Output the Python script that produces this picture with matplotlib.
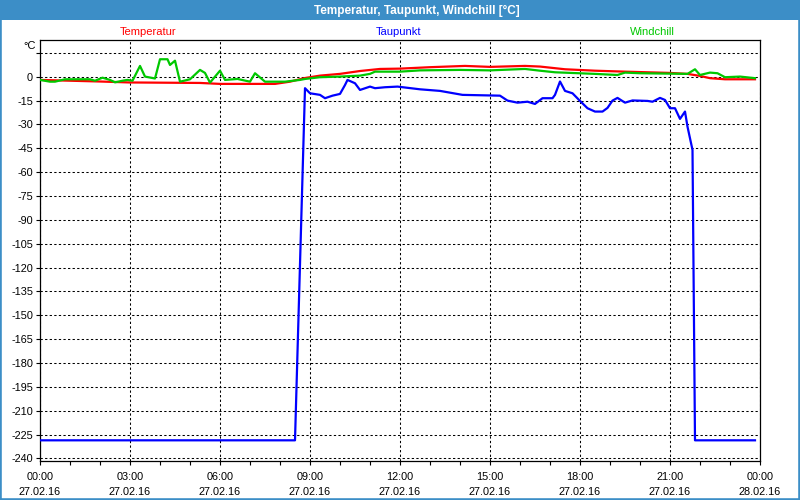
import matplotlib
matplotlib.use("Agg")
import matplotlib.pyplot as plt
import matplotlib.dates as mdates
from matplotlib.patches import Rectangle
import pandas as pd

# ---------------- data ----------------
day = "2016-02-27 "

temp_times = ["00:00", "02:00", "03:00", "05:20", "06:00", "07:50", "08:20", "08:50",
              "09:20", "10:00", "10:40", "11:20", "12:00", "13:00", "14:10", "15:00",
              "16:10", "16:40", "17:30", "18:30", "19:30", "21:00", "21:35", "22:00",
              "22:20", "22:50", "23:50"]
temp_values = [-2.0, -3.0, -3.6, -3.9, -4.5, -4.5, -3.1, -0.8,
               0.7, 1.8, 3.6, 4.9, 5.1, 6.0, 6.8, 6.2,
               6.8, 6.4, 4.7, 3.8, 3.2, 2.4, 1.8, 0.5,
               -0.9, -1.6, -1.6]

wind_times = ["00:00", "00:20", "00:30", "00:50", "01:40", "01:50", "02:05", "02:20",
              "02:30", "02:45", "02:55", "03:05", "03:20", "03:30", "03:50", "04:00",
              "04:15", "04:20", "04:30", "04:40", "05:00", "05:20", "05:30", "05:40",
              "06:00", "06:10", "06:35", "07:00", "07:10", "07:30", "08:10", "08:40",
              "08:50", "09:20", "10:00", "10:40", "11:00", "11:10", "12:00", "12:40",
              "14:00", "15:00", "16:10", "16:40", "17:10", "18:30", "19:15", "19:30",
              "20:00", "21:35", "21:50", "22:00", "22:20", "22:35", "22:50", "23:20",
              "23:50"]
wind_values = [-2.0, -3.1, -3.1, -1.6, -1.6, -2.5, -0.6, -2.0,
               -3.5, -2.5, -2.0, -2.5, 6.8, 0.1, -1.1, 11.0,
               11.0, 7.4, 10.1, -3.1, -1.6, 4.3, 2.4, -3.7,
               3.8, -2.0, -1.4, -3.1, 2.2, -3.1, -3.1, -2.0,
               -1.4, -0.3, 0.1, 0.7, 1.8, 3.2, 3.2, 4.0,
               4.3, 4.0, 4.9, 3.8, 2.8, 1.8, 1.1, 2.6,
               2.2, 1.8, 4.7, 1.1, 2.6, 2.2, -0.3, 0.1,
               -0.9]

dew_times = ["00:00", "08:30", "08:50", "09:00", "09:20", "09:30", "09:45", "10:00",
             "10:10", "10:15", "10:30", "10:40", "11:00", "11:10", "11:30", "11:55",
             "12:40", "13:20", "14:05", "15:20", "15:35", "15:55", "16:15", "16:30",
             "16:45", "17:05", "17:10", "17:20", "17:30", "17:45", "18:00", "18:15",
             "18:30", "18:45", "18:55", "19:05", "19:15", "19:30", "19:45", "20:15",
             "20:25", "20:40", "20:50", "21:00", "21:10", "21:20", "21:30", "21:35",
             "21:45", "21:50", "23:50"]
dew_values = [-228.6, -228.6, -7.2, -10.4, -11.4, -13.5, -11.9, -10.8,
              -5.2, -2.0, -4.1, -8.3, -6.2, -7.2, -6.6, -6.2,
              -7.9, -8.9, -11.4, -11.9, -15.0, -16.3, -15.7, -17.1,
              -13.5, -13.5, -11.4, -3.0, -8.9, -10.4, -15.2, -19.8,
              -21.9, -21.9, -19.6, -15.0, -13.3, -16.3, -14.9, -15.2,
              -15.7, -13.3, -14.6, -19.8, -19.8, -26.5, -21.9, -31.4,
              -46.0, -228.6, -228.6]

series_names = ["Temperatur", "Taupunkt", "Windchill"]
x_time_labels = ["00:00", "03:00", "06:00", "09:00", "12:00", "15:00", "18:00", "21:00", "00:00"]
x_date_labels = ["27.02.16"] * 8 + ["28.02.16"]
y_tick_values = list(range(-240, 16, 15))
title_text = "Temperatur, Taupunkt, Windchill [°C]"
unit_text = "°C"

# ---------------- styling ----------------
RED = "#ff0000"
BLUE = "#0000ff"
GREEN = "#00c800"
BAR = "#3c8ec7"
FONT = ["Liberation Sans", "DejaVu Sans"]
plt.rcParams["font.family"] = FONT

W, H = 800, 500
fig = plt.figure(figsize=(8, 5), dpi=100)
fig.patch.set_facecolor("white")

# title bar and frame
fig.add_artist(Rectangle((0, 1 - 20 / H), 1, 20 / H, transform=fig.transFigure,
                         facecolor=BAR, edgecolor="none", zorder=0))
fig.add_artist(Rectangle((0, 0), 1, 1, transform=fig.transFigure, fill=False,
                         edgecolor=BAR, linewidth=2.6, zorder=0))
fig.text(417 / W, 1 - 10.5 / H, title_text, color="white", fontsize=8.5,
         fontweight="bold", ha="center", va="center")

left, right, top, bottom = 40, 760, 40, 461
ax = fig.add_axes([left / W, 1 - bottom / H, (right - left) / W, (bottom - top) / H])

t0 = pd.Timestamp(day + "00:00")
t1 = t0 + pd.Timedelta(days=1)

def to_dt(lst):
    return pd.to_datetime([day + t for t in lst])

ax.plot(to_dt(temp_times), temp_values, color=RED, lw=1.6, zorder=3)
ax.plot(to_dt(dew_times), dew_values, color=BLUE, lw=1.6, zorder=4)
ax.plot(to_dt(wind_times), wind_values, color=GREEN, lw=1.6, zorder=5)

ax.set_xlim(t0, t1)
ax.set_ylim(-241.6, 23.1)

major = pd.date_range(t0, t1, freq="3h")
minor = pd.date_range(t0, t1, freq="1h")
ax.set_xticks(major)
ax.set_xticks(minor, minor=True)
ax.set_xticklabels([f"{a}\n{b}" for a, b in zip(x_time_labels, x_date_labels)],
                   fontsize=7.8, linespacing=1.55)
ax.set_yticks(y_tick_values)
ax.set_yticklabels([("" if v > 0 else str(v)) for v in y_tick_values], fontsize=7.8)

ax.tick_params(axis="both", which="both", direction="out", length=3, width=0.8,
               color="black", labelcolor="black")
ax.tick_params(axis="x", which="major", pad=5)
ax.tick_params(axis="y", pad=2)

ax.grid(True, which="major", color="black", linestyle=(0, (2.2, 2.2)), linewidth=0.75)
ax.set_axisbelow(True)
for s in ax.spines.values():
    s.set_color("black")
    s.set_linewidth(0.9)

fig.text(30 / W, 1 - 46 / H, unit_text, fontsize=8, ha="center", va="center")

legend_pos = [(148, RED), (399, BLUE), (652, GREEN)]
for name, (px, col) in zip(series_names, legend_pos):
    fig.text(px / W, 1 - 32 / H, name, color=col, fontsize=8, ha="center", va="center")

fig.savefig("out.png", dpi=100, facecolor="white")
